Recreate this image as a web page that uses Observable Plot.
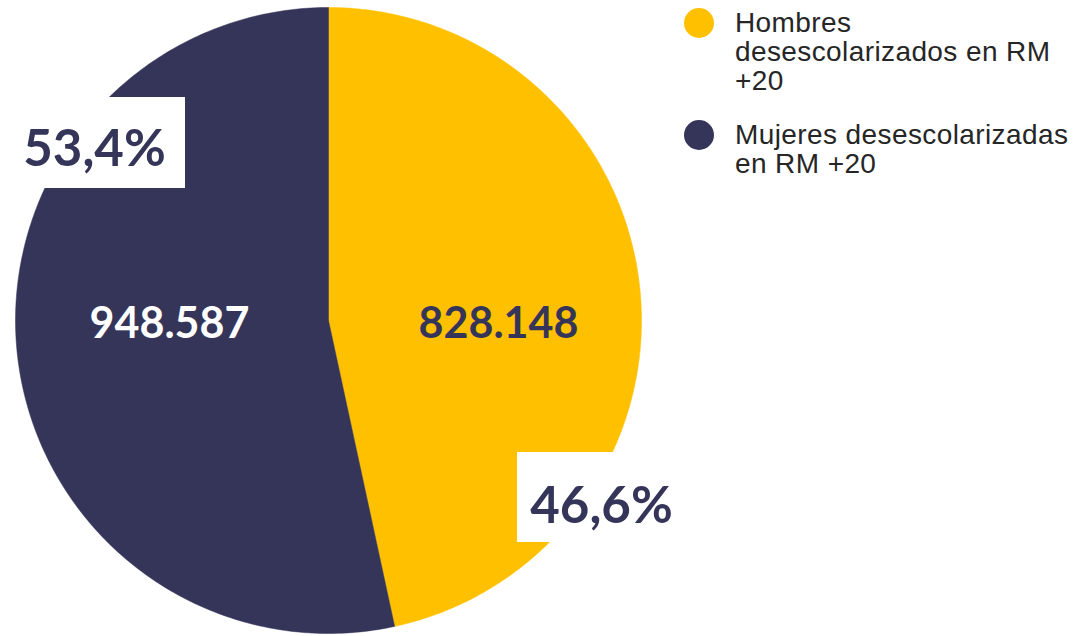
<!DOCTYPE html>
<html>
<head>
<meta charset="utf-8">
<script src="https://cdn.jsdelivr.net/npm/d3@7"></script>
<script src="https://cdn.jsdelivr.net/npm/@observablehq/plot@0.6"></script>
<style>
  html, body { margin: 0; padding: 0; background: #ffffff; }
  #chart { position: relative; width: 1076px; height: 636px; overflow: hidden; }
  .legend { position: absolute; left: 684px; top: 0; font-family: "Liberation Sans", Arial, sans-serif; font-size: 28px; line-height: 29px; letter-spacing: 0.4px; color: #262626; }
  .item { position: relative; padding-left: 51px; }
  .sw { position: absolute; left: 0; width: 30px; height: 30px; border-radius: 50%; }
</style>
</head>
<body>
<div id="chart"></div>
<script>
// ---- data ----
const categories = ["Hombres desescolarizados en RM +20", "Mujeres desescolarizadas en RM +20"];
const legendLines = [["Hombres", "desescolarizados en RM", "+20"], ["Mujeres desescolarizadas", "en RM +20"]];
const values = [828148, 948587];
const colors = ["#ffc000", "#35355a"];

// ---- layout ----
const W = 1076, H = 636;
const cx = 328, cy = 320, r = 313;
const valueLabelPos = [[498, 337], [169, 337]];          // text anchor middle, baseline
const pctBoxes = [[517, 452, 702, 542], [0, 97, 185, 188]];
const pctTextPos = [[601, 522], [94, 165]];

const total = d3.sum(values);
const fmtInt = v => d3.format(",")(v).replace(/,/g, ".");
const fmtPct = v => (v * 100).toFixed(1).replace(".", ",") + "%";

const arcs = d3.pie().sort(null).startAngle(0).endAngle(2 * Math.PI)(values);

// polygon points for slices
const slicePts = [];
arcs.forEach((a, i) => {
  slicePts.push({cat: categories[i], x: cx, y: cy});
  const n = 240;
  for (let k = 0; k <= n; k++) {
    const t = a.startAngle + (a.endAngle - a.startAngle) * k / n;
    slicePts.push({cat: categories[i], x: cx + r * Math.sin(t), y: cy - r * Math.cos(t)});
  }
  slicePts.push({cat: categories[i], x: cx, y: cy});
});

const valueLabels = values.map((v, i) => ({text: fmtInt(v), x: valueLabelPos[i][0], y: valueLabelPos[i][1], fill: i === 0 ? colors[1] : "#ffffff"}));
const pctLabels = values.map((v, i) => ({text: fmtPct(v / total), x: pctTextPos[i][0], y: pctTextPos[i][1]}));
const boxes = pctBoxes.map(b => ({x1: b[0], y1: b[1], x2: b[2], y2: b[3]}));

const plot = Plot.plot({
  width: W,
  height: H,
  margin: 0,
  x: {domain: [0, W], range: [0, W], axis: null},
  y: {domain: [0, H], range: [0, H], axis: null},
  color: {domain: categories, range: colors},
  style: {background: "transparent"},
  marks: [
    Plot.line(slicePts, {x: "x", y: "y", z: "cat", fill: "cat", stroke: "cat", strokeWidth: 0.5, curve: "linear"}),
    Plot.text(valueLabels, {x: "x", y: "y", text: "text", fill: d => d.fill, fontSize: 43, fontWeight: "bold", fontFamily: "Lato, 'Open Sans', sans-serif", textAnchor: "middle", lineAnchor: "bottom"}),
    Plot.rect(boxes, {x1: "x1", x2: "x2", y1: "y1", y2: "y2", fill: "#ffffff"}),
    Plot.text(pctLabels, {x: "x", y: "y", text: "text", fill: colors[1], fontSize: 51, fontWeight: "bold", fontFamily: "Lato, 'Open Sans', sans-serif", textAnchor: "middle", lineAnchor: "bottom"})
  ]
});
plot.style.position = "absolute";
plot.style.left = "0px";
plot.style.top = "0px";
const chart = document.getElementById("chart");
chart.appendChild(plot);

// legend
const legend = document.createElement("div");
legend.className = "legend";
const tops = [8, 120];
categories.forEach((c, i) => {
  const item = document.createElement("div");
  item.className = "item";
  item.style.position = "absolute";
  item.style.top = tops[i] + "px";
  item.style.left = "0px";
  item.style.whiteSpace = "nowrap";
  const sw = document.createElement("span");
  sw.className = "sw";
  sw.style.background = colors[i];
  sw.style.top = "0px";
  item.appendChild(sw);
  legendLines[i].forEach(l => {
    const d = document.createElement("div");
    d.textContent = l;
    item.appendChild(d);
  });
  legend.appendChild(item);
});
chart.appendChild(legend);
</script>
</body>
</html>
